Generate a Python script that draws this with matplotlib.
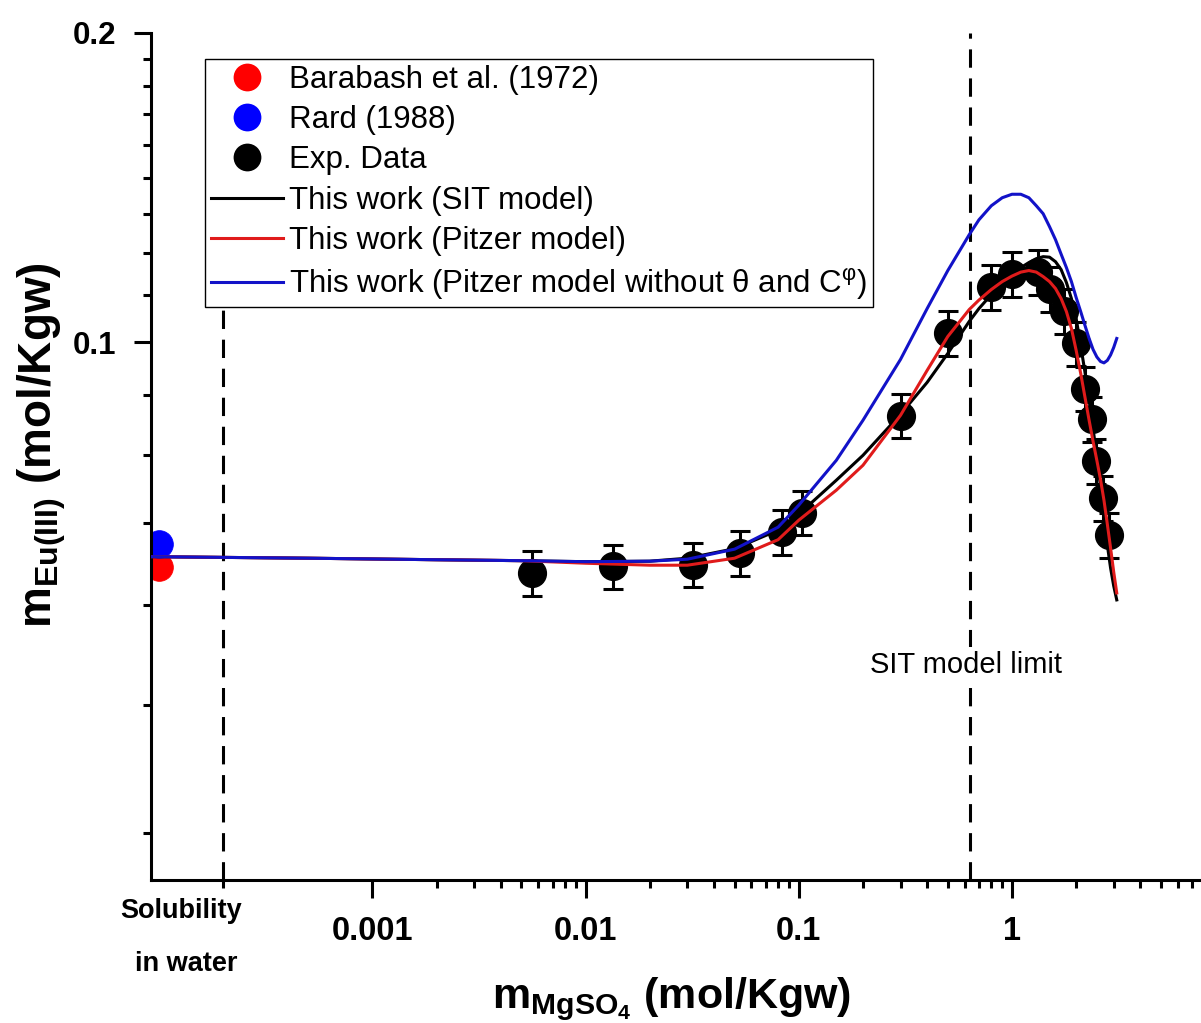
import matplotlib
matplotlib.use('Agg')
import matplotlib.pyplot as plt
from matplotlib.lines import Line2D
from matplotlib.ticker import FixedLocator, NullFormatter

plt.rcParams['font.family'] = ['Liberation Sans', 'DejaVu Sans']
plt.rcParams['mathtext.fontset'] = 'custom'
plt.rcParams['mathtext.rm'] = 'Liberation Sans'
plt.rcParams['mathtext.bf'] = 'Liberation Sans:bold'
plt.rcParams['mathtext.it'] = 'Liberation Sans:italic'
plt.rcParams['mathtext.sf'] = 'Liberation Sans'

# ---------------- data ----------------
exp_x = [0.0056, 0.0135, 0.032, 0.053, 0.083, 0.103, 0.30, 0.50, 0.80, 1.0,
         1.33, 1.50, 1.75, 2.0, 2.2, 2.38, 2.48, 2.68, 2.86]
exp_y = [0.0597, 0.0606, 0.0608, 0.0624, 0.0654, 0.0683, 0.0849, 0.1021, 0.1133, 0.1166,
         0.1170, 0.1127, 0.1074, 0.0998, 0.0902, 0.0843, 0.0767, 0.0706, 0.0650]
exp_err = [0.0030, 0.0030, 0.0030, 0.0031, 0.0033, 0.0034, 0.0042, 0.0051, 0.0057, 0.0058,
           0.0059, 0.0056, 0.0054, 0.0050, 0.0045, 0.0042, 0.0038, 0.0035, 0.0033]

barabash_x = [1.0e-4]
barabash_y = [0.0605]
rard_x = [1.0e-4]
rard_y = [0.0637]

model_x = [9.2e-5, 5e-4, 0.002, 0.005, 0.01, 0.02, 0.03, 0.05, 0.08, 0.1, 0.15, 0.2, 0.3,
           0.4, 0.5, 0.63, 0.7, 0.8, 0.9, 1.0, 1.1, 1.2, 1.3, 1.4, 1.5, 1.6, 1.7, 1.8, 1.9,
           2.0, 2.1, 2.2, 2.3, 2.4, 2.5, 2.6, 2.7, 2.8, 2.9, 3.0, 3.1]
sit_y = [0.06189, 0.06168, 0.06147, 0.06134, 0.06120, 0.06127, 0.06168, 0.06301, 0.06567,
         0.06807, 0.07345, 0.07766, 0.08513, 0.09145, 0.09757, 0.10481, 0.10789, 0.11133,
         0.11411, 0.11642, 0.11825, 0.11960, 0.12065, 0.12119, 0.12105, 0.11983, 0.11773,
         0.11436, 0.11034, 0.10551, 0.09933, 0.09351, 0.08785, 0.08250, 0.07732, 0.07248,
         0.06778, 0.06352, 0.06034, 0.05796, 0.05618]
pitzer_y = [0.06189, 0.06168, 0.06147, 0.06134, 0.06099, 0.06072, 0.06072, 0.06168, 0.06429,
            0.06716, 0.07183, 0.07595, 0.08494, 0.09394, 0.10135, 0.10765, 0.10997, 0.11259,
            0.11461, 0.11603, 0.11707, 0.11748, 0.11707, 0.11590, 0.11461, 0.11284, 0.11034,
            0.10717, 0.10318, 0.09823, 0.09331, 0.08843, 0.08400, 0.08014, 0.07680, 0.07362,
            0.07024, 0.06658, 0.06310, 0.05980, 0.05706]
pitzer_noth_y = [0.06189, 0.06168, 0.06147, 0.06134, 0.06120, 0.06127, 0.06154, 0.06294,
                 0.06612, 0.06946, 0.07680, 0.08400, 0.09627, 0.10789, 0.11748, 0.12729,
                 0.13163, 0.13583, 0.13829, 0.13937, 0.13937, 0.13829, 0.13583, 0.13343,
                 0.12961, 0.12589, 0.12187, 0.11825, 0.11461, 0.11058, 0.10717, 0.10387,
                 0.10090, 0.09845, 0.09681, 0.09584, 0.09553, 0.09606, 0.09724, 0.09889,
                 0.10090]

solubility_x = 2e-4
sit_limit_x = 0.635

x_tick_vals = [1e-3, 1e-2, 1e-1, 1]
x_tick_labels = ['0.001', '0.01', '0.1', '1']
y_tick_vals = [0.1, 0.2]
y_tick_labels = ['0.1', '0.2']

labels = ['Barabash et al. (1972)', 'Rard (1988)', 'Exp. Data',
          'This work (SIT model)', 'This work (Pitzer model)',
          'This work (Pitzer model without θ and C$^{\\mathregular{φ}}$)']

# ---------------- figure ----------------
W, H = 1201, 1023
fig = plt.figure(figsize=(W / 100, H / 100), dpi=100)
ax_l, ax_r, ax_t, ax_b = 150.9, 1201, 33, 880
ax = fig.add_axes([ax_l / W, (H - ax_b) / H, (ax_r - ax_l) / W, (ax_b - ax_t) / H])
ax.set_xscale('log')
ax.set_yscale('log')
ax.set_xlim(9.15e-5, 7.70)
ax.set_ylim(0.03, 0.2)

LW = 2.2
MS = 20
dash = (0, (6, 3.5))
RED_M = '#FF0000'
BLUE_M = '#0000FF'
RED_L = '#E01B1B'
BLUE_L = '#1212C8'

# dashed lines
ax.vlines(solubility_x, 0.03, 0.108, colors='k', linestyles=dash, lw=LW, zorder=1)
ax.axvline(sit_limit_x, color='k', ls=dash, lw=LW, zorder=1)
ax.text(0.608, 0.0486, 'SIT model limit', ha='center', va='center', fontsize=21,
        zorder=2, bbox=dict(facecolor='white', edgecolor='none', pad=3))

# reference data in water
ax.plot(barabash_x, barabash_y, 'o', color=RED_M, ms=MS, mec=RED_M, mew=0.5, zorder=2)
ax.plot(rard_x, rard_y, 'o', color=BLUE_M, ms=MS, mec=BLUE_M, mew=0.5, zorder=2.5)

# experimental data
ax.errorbar(exp_x, exp_y, yerr=exp_err, fmt='o', color='k', ms=MS, mec='k',
            capsize=7.2, capthick=LW, elinewidth=LW, zorder=3)

# models
ax.plot(model_x, sit_y, color='k', lw=LW, zorder=4)
ax.plot(model_x, pitzer_y, color=RED_L, lw=LW, zorder=5)
ax.plot(model_x, pitzer_noth_y, color=BLUE_L, lw=LW, zorder=6)

# ---------------- axes styling ----------------
for s in ['top', 'right']:
    ax.spines[s].set_visible(False)
for s in ['left', 'bottom']:
    ax.spines[s].set_linewidth(LW)

ax.set_xticks(x_tick_vals, labels=x_tick_labels, fontsize=23.5, fontweight='bold')
ax.xaxis.set_minor_locator(FixedLocator([solubility_x] +
                                        [m * 10.0 ** e for e in range(-3, 1) for m in range(2, 10)]))
ax.xaxis.set_minor_formatter(NullFormatter())
ax.set_yticks(y_tick_vals, labels=y_tick_labels, fontsize=22.5, fontweight='bold')
ax.yaxis.set_minor_locator(FixedLocator([k / 90 for k in range(3, 9)] +
                                        [0.1 + k / 90 for k in range(1, 9)]))
ax.yaxis.set_minor_formatter(NullFormatter())
ax.tick_params(which='major', direction='out', length=12.6, width=LW)
ax.tick_params(which='minor', direction='out', length=5.8, width=LW)
ax.tick_params(axis='x', which='major', pad=13)
ax.tick_params(axis='y', which='major', pad=12)

fig.text(181.5 / W, (H - 918) / H, 'Solubility', ha='center', va='baseline',
         fontsize=19.5, fontweight='bold')
fig.text(186 / W, (H - 971) / H, 'in water', ha='center', va='baseline',
         fontsize=19.5, fontweight='bold')

ax.set_xlabel(r'$\mathbf{m_{MgSO_4}}$ (mol/Kgw)', fontsize=31, fontweight='bold')
ax.xaxis.set_label_coords((672 - ax_l) / (ax_r - ax_l), (ax_b - 975) / (ax_b - ax_t))
ax.set_ylabel(r'$\mathbf{m_{Eu(III)}}$ (mol/Kgw)', fontsize=33, fontweight='bold')
ax.yaxis.set_label_coords((68 - ax_l) / (ax_r - ax_l), (ax_b - 445) / (ax_b - ax_t))

# ---------------- legend ----------------
handles = [
    Line2D([], [], ls='none', marker='o', color=RED_M, ms=MS, mew=0),
    Line2D([], [], ls='none', marker='o', color=BLUE_M, ms=MS, mew=0),
    Line2D([], [], ls='none', marker='o', color='k', ms=MS, mew=0),
    Line2D([], [], color='k', lw=LW),
    Line2D([], [], color=RED_L, lw=LW),
    Line2D([], [], color=BLUE_L, lw=LW),
]
leg = ax.legend(handles, labels, loc='upper left',
                bbox_to_anchor=((205 - ax_l) / (ax_r - ax_l), (ax_b - 59) / (ax_b - ax_t)),
                borderaxespad=0, fontsize=22.5, frameon=True, fancybox=False,
                edgecolor='black', framealpha=1, borderpad=0.18, labelspacing=0.33,
                handlelength=2.3, handletextpad=0.22, handleheight=0.7)
leg.get_frame().set_linewidth(1.0)
leg.set_zorder(10)

fig.savefig('out.png', dpi=100)
